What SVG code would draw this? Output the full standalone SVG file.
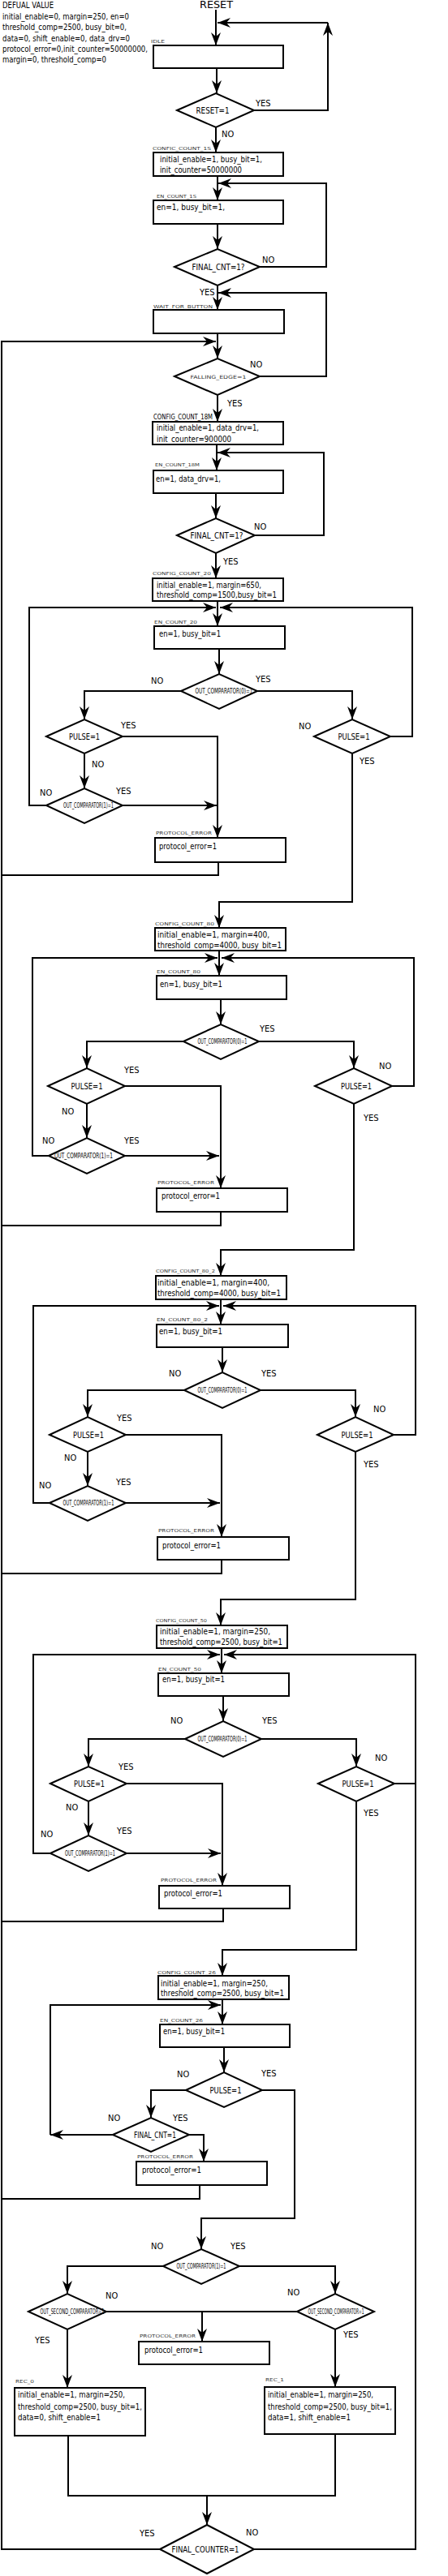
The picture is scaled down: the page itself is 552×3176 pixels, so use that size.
<svg xmlns="http://www.w3.org/2000/svg" width="552" height="3176" viewBox="0 0 552 3176">
<style>
.ln{fill:none;stroke:#000;stroke-width:2}
.ar{marker-end:url(#ah)}
.bx{fill:#fff;stroke:#000;stroke-width:2}
.dm{fill:#fff;stroke:#000;stroke-width:2}
text{font-family:"DejaVu Sans Condensed","DejaVu Sans","Liberation Sans",sans-serif;fill:#000}
.t{font-size:10px}
.s{font-size:5.5px;fill:#333}
.lb{font-size:11px}
.dt{font-size:11px;text-anchor:middle}
.oc{font-size:9px;text-anchor:middle}
.fe{font-size:6px;text-anchor:middle;fill:#333}
</style>
<defs>
<marker id="ah" viewBox="0 0 16 12" markerWidth="16" markerHeight="12" refX="16" refY="6" orient="auto" markerUnits="userSpaceOnUse">
<path d="M0,0 L16,6 L0,12 L5,6 Z" fill="#000"/>
</marker>
</defs>
<rect width="552" height="3176" fill="#fff"/>

<g id="defaults">
<text class="t" x="3" y="10" textLength="63" lengthAdjust="spacingAndGlyphs">DEFUAL VALUE</text>
<text class="t" x="3" y="24" textLength="156" lengthAdjust="spacingAndGlyphs">initial_enable=0, margin=250, en=0</text>
<text class="t" x="3" y="37" textLength="153" lengthAdjust="spacingAndGlyphs">threshold_comp=2500, busy_bit=0,</text>
<text class="t" x="3" y="51" textLength="157" lengthAdjust="spacingAndGlyphs">data=0, shift_enable=0, data_drv=0</text>
<text class="t" x="3" y="64" textLength="179" lengthAdjust="spacingAndGlyphs">protocol_error=0,init_counter=50000000,</text>
<text class="t" x="3" y="77" textLength="128" lengthAdjust="spacingAndGlyphs">margin=0, threshold_comp=0</text>
</g>

<g id="reset"><text x="246" y="10" font-size="12" textLength="41" lengthAdjust="spacingAndGlyphs">RESET</text></g>

<g id="connectors">
<path class="ln ar" d="M266,12 V56"/>
<path class="ln ar" d="M313,136 H404 V28"/>
<path class="ln ar" d="M404,28 H268"/>
<path class="ln ar" d="M267,84 V115"/>
<path class="ln ar" d="M266,157 V188"/>
<path class="ln ar" d="M268,217 V247"/>
<path class="ln ar" d="M320,329 H402 V226 H269"/>
<path class="ln ar" d="M268,276 V307"/>
<path class="ln ar" d="M268,352 V382"/>
<path class="ln ar" d="M320,464 H402 V361 H269"/>
<path class="ln ar" d="M268,411 V442"/>
<path class="ln ar" d="M197,3143 H2 V421 H266"/>
<path class="ln ar" d="M268,487 V520"/>
<path class="ln ar" d="M267,548 V580"/>
<path class="ln ar" d="M314,660 H399 V558 H268"/>
<path class="ln ar" d="M266,608 V639"/>
<path class="ln ar" d="M266,682 V713"/>
<path class="ln ar" d="M268,741 V772"/>
<path class="ln ar" d="M57,993 H36 V749 H266"/>
<path class="ln ar" d="M481,908 H508 V749 H271"/>
<path class="ln ar" d="M270,800 V831"/>
<path class="ln ar" d="M223,852 H104 V887"/>
<path class="ln ar" d="M317,852 H434 V887"/>
<path class="ln ar" d="M151,908 H268 V1033"/>
<path class="ln ar" d="M104,929 V972"/>
<path class="ln ar" d="M151,993 H267"/>
<path class="ln" d="M269,1063 V1079 H2"/>
<path class="ln ar" d="M434,929 V1112 H270 V1144"/>
<path class="ln ar" d="M270,1172 V1203"/>
<path class="ln ar" d="M60,1425 H40 V1181 H268"/>
<path class="ln ar" d="M483,1339 H510 V1181 H273"/>
<path class="ln ar" d="M272,1232 V1263"/>
<path class="ln ar" d="M226,1284 H107 V1317"/>
<path class="ln ar" d="M319,1284 H436 V1317"/>
<path class="ln ar" d="M154,1339 H272 V1465"/>
<path class="ln ar" d="M107,1361 V1403"/>
<path class="ln ar" d="M154,1425 H270"/>
<path class="ln" d="M272,1494 V1511 H2"/>
<path class="ln ar" d="M436,1361 V1541 H272 V1573"/>
<path class="ln ar" d="M272,1602 V1633"/>
<path class="ln ar" d="M61,1853 H41 V1610 H270"/>
<path class="ln ar" d="M485,1769 H512 V1610 H275"/>
<path class="ln ar" d="M274,1661 V1692"/>
<path class="ln ar" d="M227,1714 H108 V1747"/>
<path class="ln ar" d="M321,1714 H438 V1747"/>
<path class="ln ar" d="M155,1769 H273 V1895"/>
<path class="ln ar" d="M108,1790 V1832"/>
<path class="ln ar" d="M155,1853 H271"/>
<path class="ln" d="M273,1923 V1940 H2"/>
<path class="ln ar" d="M438,1790 V1972 H272 V2004"/>
<path class="ln ar" d="M273,2032 V2063"/>
<path class="ln ar" d="M62,2285 H41 V2040 H271"/>
<path class="ln ar" d="M313,3143 H512 V2040 H276"/>
<path class="ln" d="M486,2199 H512"/>
<path class="ln ar" d="M275,2091 V2122"/>
<path class="ln ar" d="M228,2144 H109 V2178"/>
<path class="ln ar" d="M322,2144 H439 V2178"/>
<path class="ln ar" d="M156,2199 H274 V2325"/>
<path class="ln ar" d="M109,2221 V2263"/>
<path class="ln ar" d="M156,2285 H272"/>
<path class="ln" d="M275,2353 V2369 H2"/>
<path class="ln ar" d="M439,2221 V2404 H274 V2436"/>
<path class="ln ar" d="M274,2465 V2496"/>
<path class="ln ar" d="M139,2632 H62"/>
<path class="ln ar" d="M62,2632 V2472 H272"/>
<path class="ln ar" d="M276,2524 V2555"/>
<path class="ln ar" d="M229,2577 H186 V2611"/>
<path class="ln ar" d="M323,2577 H363 V2735 H248 V2773"/>
<path class="ln ar" d="M233,2632 H251 V2665"/>
<path class="ln" d="M246,2694 V2711 H2"/>
<path class="ln ar" d="M201,2794 H83 V2828"/>
<path class="ln ar" d="M295,2794 H413 V2828"/>
<path class="ln" d="M131,2850 H366"/>
<path class="ln ar" d="M249,2850 V2887"/>
<path class="ln ar" d="M83,2872 V2944"/>
<path class="ln ar" d="M413,2872 V2943"/>
<path class="ln" d="M84,3003 V3077 H413 V3001"/>
<path class="ln ar" d="M255,3077 V3113"/>
</g>

<g id="edge-labels" class="lb">
<text x="315" y="131">YES</text><text x="273" y="169">NO</text>
<text x="323" y="324">NO</text><text x="246" y="364">YES</text>
<text x="308" y="453">NO</text><text x="280" y="501">YES</text>
<text x="313" y="653">NO</text><text x="275" y="696">YES</text>
<text x="186" y="843">NO</text><text x="315" y="841">YES</text>
<text x="149" y="898">YES</text><text x="113" y="946">NO</text>
<text x="49" y="981">NO</text><text x="143" y="979">YES</text>
<text x="368" y="899">NO</text><text x="443" y="942">YES</text>
<text x="320" y="1272">YES</text>
<text x="153" y="1323">YES</text><text x="76" y="1374">NO</text>
<text x="52" y="1410">NO</text><text x="153" y="1410">YES</text>
<text x="467" y="1318">NO</text><text x="448" y="1382">YES</text>
<text x="208" y="1697">NO</text><text x="322" y="1697">YES</text>
<text x="144" y="1752">YES</text><text x="79" y="1801">NO</text>
<text x="48" y="1835">NO</text><text x="143" y="1831">YES</text>
<text x="460" y="1741">NO</text><text x="448" y="1809">YES</text>
<text x="210" y="2125">NO</text><text x="323" y="2125">YES</text>
<text x="146" y="2182">YES</text><text x="81" y="2232">NO</text>
<text x="50" y="2265">NO</text><text x="144" y="2261">YES</text>
<text x="462" y="2171">NO</text><text x="448" y="2239">YES</text>
<text x="218" y="2561">NO</text><text x="322" y="2560">YES</text>
<text x="133" y="2615">NO</text><text x="213" y="2615">YES</text>
<text x="186" y="2773">NO</text><text x="284" y="2773">YES</text>
<text x="130" y="2834">NO</text><text x="43" y="2889">YES</text>
<text x="354" y="2830">NO</text><text x="423" y="2882">YES</text>
<text x="172" y="3127">YES</text><text x="303" y="3126">NO</text>
</g>

<g id="idle"><rect class="bx" x="189" y="56" width="160" height="28"/><text class="s" x="186" y="53" textLength="17" lengthAdjust="spacingAndGlyphs">IDLE</text></g>
<g id="reset-check"><path class="dm" d="M218,136 L266,115 L313,136 L266,157 Z"/><text class="dt" x="262" y="140" font-size="12" textLength="41" lengthAdjust="spacingAndGlyphs">RESET=1</text></g>
<g id="confic-count-1s"><rect class="bx" x="189" y="188" width="160" height="29"/><text class="s" x="188" y="185" textLength="72" lengthAdjust="spacingAndGlyphs">CONFIC_COUNT_1S</text>
<text class="t" x="197" y="200" textLength="126" lengthAdjust="spacingAndGlyphs">initial_enable=1, busy_bit=1,</text>
<text class="t" x="197" y="213" textLength="101" lengthAdjust="spacingAndGlyphs">init_counter=50000000</text></g>
<g id="en-count-1s"><rect class="bx" x="189" y="247" width="160" height="29"/><text class="s" x="193" y="244" textLength="49" lengthAdjust="spacingAndGlyphs">EN_COUNT_1S</text>
<text class="t" x="193" y="259" textLength="84" lengthAdjust="spacingAndGlyphs">en=1, busy_bit=1,</text></g>
<g id="final-cnt-1"><path class="dm" d="M215,329 L268,307 L320,329 L268,352 Z"/><text class="dt" x="269" y="333" font-size="12" textLength="65" lengthAdjust="spacingAndGlyphs">FINAL_CNT=1?</text></g>
<g id="wait-for-button"><rect class="bx" x="189" y="382" width="161" height="29"/><text class="s" x="189" y="380" textLength="73" lengthAdjust="spacingAndGlyphs">WAIT_FOR_BUTTON</text></g>
<g id="falling-edge"><path class="dm" d="M215,464 L268,442 L320,464 L268,487 Z"/><text class="fe" x="269" y="467" textLength="69" lengthAdjust="spacingAndGlyphs">FALLING_EDGE=1</text></g>
<g id="config-count-18m"><rect class="bx" x="188" y="520" width="161" height="28"/><text x="189" y="517" font-size="9" textLength="73" lengthAdjust="spacingAndGlyphs">CONFIG_COUNT_18M</text>
<text class="t" x="193" y="531" textLength="126" lengthAdjust="spacingAndGlyphs">initial_enable=1, data_drv=1,</text>
<text class="t" x="193" y="545" textLength="92" lengthAdjust="spacingAndGlyphs">init_counter=900000</text></g>
<g id="en-count-18m"><rect class="bx" x="189" y="580" width="160" height="28"/><text class="s" x="191" y="575" textLength="55" lengthAdjust="spacingAndGlyphs">EN_COUNT_18M</text>
<text class="t" x="192" y="594" textLength="80" lengthAdjust="spacingAndGlyphs">en=1, data_drv=1,</text></g>
<g id="final-cnt-2"><path class="dm" d="M218,660 L266,639 L314,660 L266,682 Z"/><text class="dt" x="267" y="664" font-size="12" textLength="65" lengthAdjust="spacingAndGlyphs">FINAL_CNT=1?</text></g>

<g id="config-count-20"><rect class="bx" x="188" y="713" width="161" height="28"/><text class="s" x="188" y="709" textLength="72" lengthAdjust="spacingAndGlyphs">CONFIG_COUNT_20</text>
<text class="t" x="193" y="725" textLength="129" lengthAdjust="spacingAndGlyphs">initial_enable=1, margin=650,</text>
<text class="t" x="193" y="737" textLength="148" lengthAdjust="spacingAndGlyphs">threshold_comp=1500,busy_bit=1</text></g>
<g id="en-count-20"><rect class="bx" x="190" y="772" width="161" height="28"/><text class="s" x="190" y="769" textLength="53" lengthAdjust="spacingAndGlyphs">EN_COUNT_20</text>
<text class="t" x="196" y="785" textLength="76" lengthAdjust="spacingAndGlyphs">en=1, busy_bit=1</text></g>
<g id="cmp0-20"><path class="dm" d="M223,852 L270,831 L317,852 L270,874 Z"/><text class="oc" x="276" y="855" textLength="71" lengthAdjust="spacingAndGlyphs">OUT_COMPARATOR(0)=1</text></g>
<g id="pulse-l-20"><path class="dm" d="M57,908 L104,887 L151,908 L104,929 Z"/><text class="dt" x="104" y="912" textLength="38" lengthAdjust="spacingAndGlyphs">PULSE=1</text></g>
<g id="cmp1-20"><path class="dm" d="M57,993 L104,972 L151,993 L104,1015 Z"/><text class="oc" x="109" y="996" textLength="62" lengthAdjust="spacingAndGlyphs">OUT_COMPARATOR(1)=1</text></g>
<g id="pulse-r-20"><path class="dm" d="M387,908 L434,887 L481,908 L434,929 Z"/><text class="dt" x="436" y="912" textLength="39" lengthAdjust="spacingAndGlyphs">PULSE=1</text></g>
<g id="protocol-error-20"><rect class="bx" x="191" y="1033" width="161" height="30"/><text class="s" x="192" y="1029" textLength="69" lengthAdjust="spacingAndGlyphs">PROTOCOL_ERROR</text>
<text class="t" x="196" y="1047" textLength="71" lengthAdjust="spacingAndGlyphs">protocol_error=1</text></g>

<g id="config-count-80"><rect class="bx" x="191" y="1144" width="161" height="28"/><text class="s" x="191" y="1141" textLength="73" lengthAdjust="spacingAndGlyphs">CONFIG_COUNT_80</text>
<text class="t" x="194" y="1156" textLength="138" lengthAdjust="spacingAndGlyphs">initial_enable=1, margin=400,</text>
<text class="t" x="194" y="1169" textLength="153" lengthAdjust="spacingAndGlyphs">threshold_comp=4000, busy_bit=1</text></g>
<g id="en-count-80"><rect class="bx" x="193" y="1203" width="160" height="29"/><text class="s" x="193" y="1200" textLength="54" lengthAdjust="spacingAndGlyphs">EN_COUNT_80</text>
<text class="t" x="197" y="1217" textLength="77" lengthAdjust="spacingAndGlyphs">en=1, busy_bit=1</text></g>
<g id="cmp0-80"><path class="dm" d="M226,1284 L272,1263 L319,1284 L272,1306 Z"/><text class="oc" x="274" y="1287" textLength="61" lengthAdjust="spacingAndGlyphs">OUT_COMPARATOR(0)=1</text></g>
<g id="pulse-l-80"><path class="dm" d="M59,1339 L107,1317 L154,1339 L107,1361 Z"/><text class="dt" x="107" y="1343" textLength="39" lengthAdjust="spacingAndGlyphs">PULSE=1</text></g>
<g id="cmp1-80"><path class="dm" d="M60,1425 L107,1403 L154,1425 L107,1447 Z"/><text class="oc" x="103" y="1428" textLength="72" lengthAdjust="spacingAndGlyphs">OUT_COMPARATOR(1)=1</text></g>
<g id="pulse-r-80"><path class="dm" d="M388,1339 L436,1317 L483,1339 L436,1361 Z"/><text class="dt" x="439" y="1343" textLength="38" lengthAdjust="spacingAndGlyphs">PULSE=1</text></g>
<g id="protocol-error-80"><rect class="bx" x="193" y="1465" width="161" height="29"/><text class="s" x="194" y="1460" textLength="70" lengthAdjust="spacingAndGlyphs">PROTOCOL_ERROR</text>
<text class="t" x="199" y="1478" textLength="72" lengthAdjust="spacingAndGlyphs">protocol_error=1</text></g>

<g id="config-count-80-2"><rect class="bx" x="192" y="1573" width="161" height="29"/><text class="s" x="192" y="1569" textLength="73" lengthAdjust="spacingAndGlyphs">CONFIG_COUNT_80_2</text>
<text class="t" x="194" y="1585" textLength="138" lengthAdjust="spacingAndGlyphs">initial_enable=1, margin=400,</text>
<text class="t" x="194" y="1598" textLength="152" lengthAdjust="spacingAndGlyphs">threshold_comp=4000, busy_bit=1</text></g>
<g id="en-count-80-2"><rect class="bx" x="193" y="1633" width="162" height="28"/><text class="s" x="193" y="1629" textLength="63" lengthAdjust="spacingAndGlyphs">EN_COUNT_80_2</text>
<text class="t" x="196" y="1645" textLength="78" lengthAdjust="spacingAndGlyphs">en=1, busy_bit=1</text></g>
<g id="cmp0-80-2"><path class="dm" d="M227,1714 L274,1692 L321,1714 L274,1736 Z"/><text class="oc" x="274" y="1717" textLength="61" lengthAdjust="spacingAndGlyphs">OUT_COMPARATOR(0)=1</text></g>
<g id="pulse-l-80-2"><path class="dm" d="M61,1769 L108,1747 L155,1769 L108,1790 Z"/><text class="dt" x="109" y="1773" textLength="38" lengthAdjust="spacingAndGlyphs">PULSE=1</text></g>
<g id="cmp1-80-2"><path class="dm" d="M61,1853 L108,1832 L155,1853 L108,1875 Z"/><text class="oc" x="109" y="1856" textLength="63" lengthAdjust="spacingAndGlyphs">OUT_COMPARATOR(1)=1</text></g>
<g id="pulse-r-80-2"><path class="dm" d="M391,1769 L438,1747 L485,1769 L438,1790 Z"/><text class="dt" x="440" y="1773" textLength="39" lengthAdjust="spacingAndGlyphs">PULSE=1</text></g>
<g id="protocol-error-80-2"><rect class="bx" x="194" y="1895" width="162" height="28"/><text class="s" x="195" y="1889" textLength="69" lengthAdjust="spacingAndGlyphs">PROTOCOL_ERROR</text>
<text class="t" x="200" y="1909" textLength="72" lengthAdjust="spacingAndGlyphs">protocol_error=1</text></g>

<g id="config-count-50"><rect class="bx" x="193" y="2004" width="161" height="28"/><text class="s" x="192" y="2000" textLength="63" lengthAdjust="spacingAndGlyphs">CONFIG_COUNT_50</text>
<text class="t" x="197" y="2015" textLength="136" lengthAdjust="spacingAndGlyphs">initial_enable=1, margin=250,</text>
<text class="t" x="197" y="2028" textLength="151" lengthAdjust="spacingAndGlyphs">threshold_comp=2500, busy_bit=1</text></g>
<g id="en-count-50"><rect class="bx" x="195" y="2063" width="161" height="28"/><text class="s" x="195" y="2060" textLength="53" lengthAdjust="spacingAndGlyphs">EN_COUNT_50</text>
<text class="t" x="200" y="2074" textLength="77" lengthAdjust="spacingAndGlyphs">en=1, busy_bit=1</text></g>
<g id="cmp0-50"><path class="dm" d="M228,2144 L275,2122 L322,2144 L275,2166 Z"/><text class="oc" x="274" y="2147" textLength="61" lengthAdjust="spacingAndGlyphs">OUT_COMPARATOR(0)=1</text></g>
<g id="pulse-l-50"><path class="dm" d="M62,2199 L109,2178 L156,2199 L109,2221 Z"/><text class="dt" x="110" y="2203" textLength="38" lengthAdjust="spacingAndGlyphs">PULSE=1</text></g>
<g id="cmp1-50"><path class="dm" d="M62,2285 L109,2263 L156,2285 L109,2307 Z"/><text class="oc" x="111" y="2288" textLength="62" lengthAdjust="spacingAndGlyphs">OUT_COMPARATOR(1)=1</text></g>
<g id="pulse-r-50"><path class="dm" d="M392,2199 L439,2178 L486,2199 L439,2221 Z"/><text class="dt" x="441" y="2203" textLength="39" lengthAdjust="spacingAndGlyphs">PULSE=1</text></g>
<g id="protocol-error-50"><rect class="bx" x="196" y="2325" width="161" height="28"/><text class="s" x="198" y="2320" textLength="69" lengthAdjust="spacingAndGlyphs">PROTOCOL_ERROR</text>
<text class="t" x="202" y="2338" textLength="72" lengthAdjust="spacingAndGlyphs">protocol_error=1</text></g>

<g id="config-count-26"><rect class="bx" x="195" y="2436" width="161" height="29"/><text class="s" x="194" y="2434" textLength="72" lengthAdjust="spacingAndGlyphs">CONFIG_COUNT_26</text>
<text class="t" x="198" y="2449" textLength="132" lengthAdjust="spacingAndGlyphs">initial_enable=1, margin=250,</text>
<text class="t" x="198" y="2461" textLength="152" lengthAdjust="spacingAndGlyphs">threshold_comp=2500, busy_bit=1</text></g>
<g id="en-count-26"><rect class="bx" x="197" y="2496" width="160" height="28"/><text class="s" x="197" y="2493" textLength="53" lengthAdjust="spacingAndGlyphs">EN_COUNT_26</text>
<text class="t" x="201" y="2508" textLength="76" lengthAdjust="spacingAndGlyphs">en=1, busy_bit=1</text></g>
<g id="pulse-26"><path class="dm" d="M229,2577 L276,2555 L323,2577 L276,2598 Z"/><text class="dt" x="278" y="2581" textLength="39" lengthAdjust="spacingAndGlyphs">PULSE=1</text></g>
<g id="final-cnt-26"><path class="dm" d="M139,2632 L186,2611 L233,2632 L186,2653 Z"/><text class="dt" x="191" y="2636" textLength="52" lengthAdjust="spacingAndGlyphs">FINAL_CNT=1</text></g>
<g id="protocol-error-26"><rect class="bx" x="168" y="2665" width="161" height="29"/><text class="s" x="169" y="2661" textLength="69" lengthAdjust="spacingAndGlyphs">PROTOCOL_ERROR</text>
<text class="t" x="175" y="2679" textLength="73" lengthAdjust="spacingAndGlyphs">protocol_error=1</text></g>
<g id="cmp1-26"><path class="dm" d="M201,2794 L248,2773 L295,2794 L248,2816 Z"/><text class="oc" x="248" y="2797" textLength="61" lengthAdjust="spacingAndGlyphs">OUT_COMPARATOR(1)=1</text></g>
<g id="second-cmp-l"><path class="dm" d="M35,2850 L83,2828 L131,2850 L83,2872 Z"/><text class="oc" x="89" y="2853" font-size="8" textLength="79" lengthAdjust="spacingAndGlyphs">OUT_SECOND_COMPARATOR=1</text></g>
<g id="second-cmp-r"><path class="dm" d="M366,2850 L413,2828 L461,2850 L413,2872 Z"/><text class="oc" x="414" y="2853" font-size="8" textLength="69" lengthAdjust="spacingAndGlyphs">OUT_SECOND_COMPARATOR=1</text></g>
<g id="protocol-error-rec"><rect class="bx" x="171" y="2887" width="161" height="28"/><text class="s" x="172" y="2882" textLength="69" lengthAdjust="spacingAndGlyphs">PROTOCOL_ERROR</text>
<text class="t" x="178" y="2901" textLength="72" lengthAdjust="spacingAndGlyphs">protocol_error=1</text></g>
<g id="rec-0"><rect class="bx" x="18" y="2944" width="161" height="59"/><text class="s" x="19" y="2938" textLength="23" lengthAdjust="spacingAndGlyphs">REC_0</text>
<text class="t" x="22" y="2956" textLength="132" lengthAdjust="spacingAndGlyphs">initial_enable=1, margin=250,</text>
<text class="t" x="22" y="2971" textLength="153" lengthAdjust="spacingAndGlyphs">threshold_comp=2500, busy_bit=1,</text>
<text class="t" x="22" y="2984" textLength="102" lengthAdjust="spacingAndGlyphs">data=0, shift_enable=1</text></g>
<g id="rec-1"><rect class="bx" x="326" y="2943" width="161" height="58"/><text class="s" x="327" y="2936" textLength="23" lengthAdjust="spacingAndGlyphs">REC_1</text>
<text class="t" x="330" y="2956" textLength="130" lengthAdjust="spacingAndGlyphs">initial_enable=1, margin=250,</text>
<text class="t" x="330" y="2971" textLength="153" lengthAdjust="spacingAndGlyphs">threshold_comp=2500, busy_bit=1,</text>
<text class="t" x="330" y="2984" textLength="102" lengthAdjust="spacingAndGlyphs">data=1, shift_enable=1</text></g>
<g id="final-counter"><path class="dm" d="M197,3143 L255,3113 L313,3143 L255,3173 Z"/><text class="dt" x="253" y="3147" textLength="83" lengthAdjust="spacingAndGlyphs">FINAL_COUNTER=1</text></g>
</svg>
